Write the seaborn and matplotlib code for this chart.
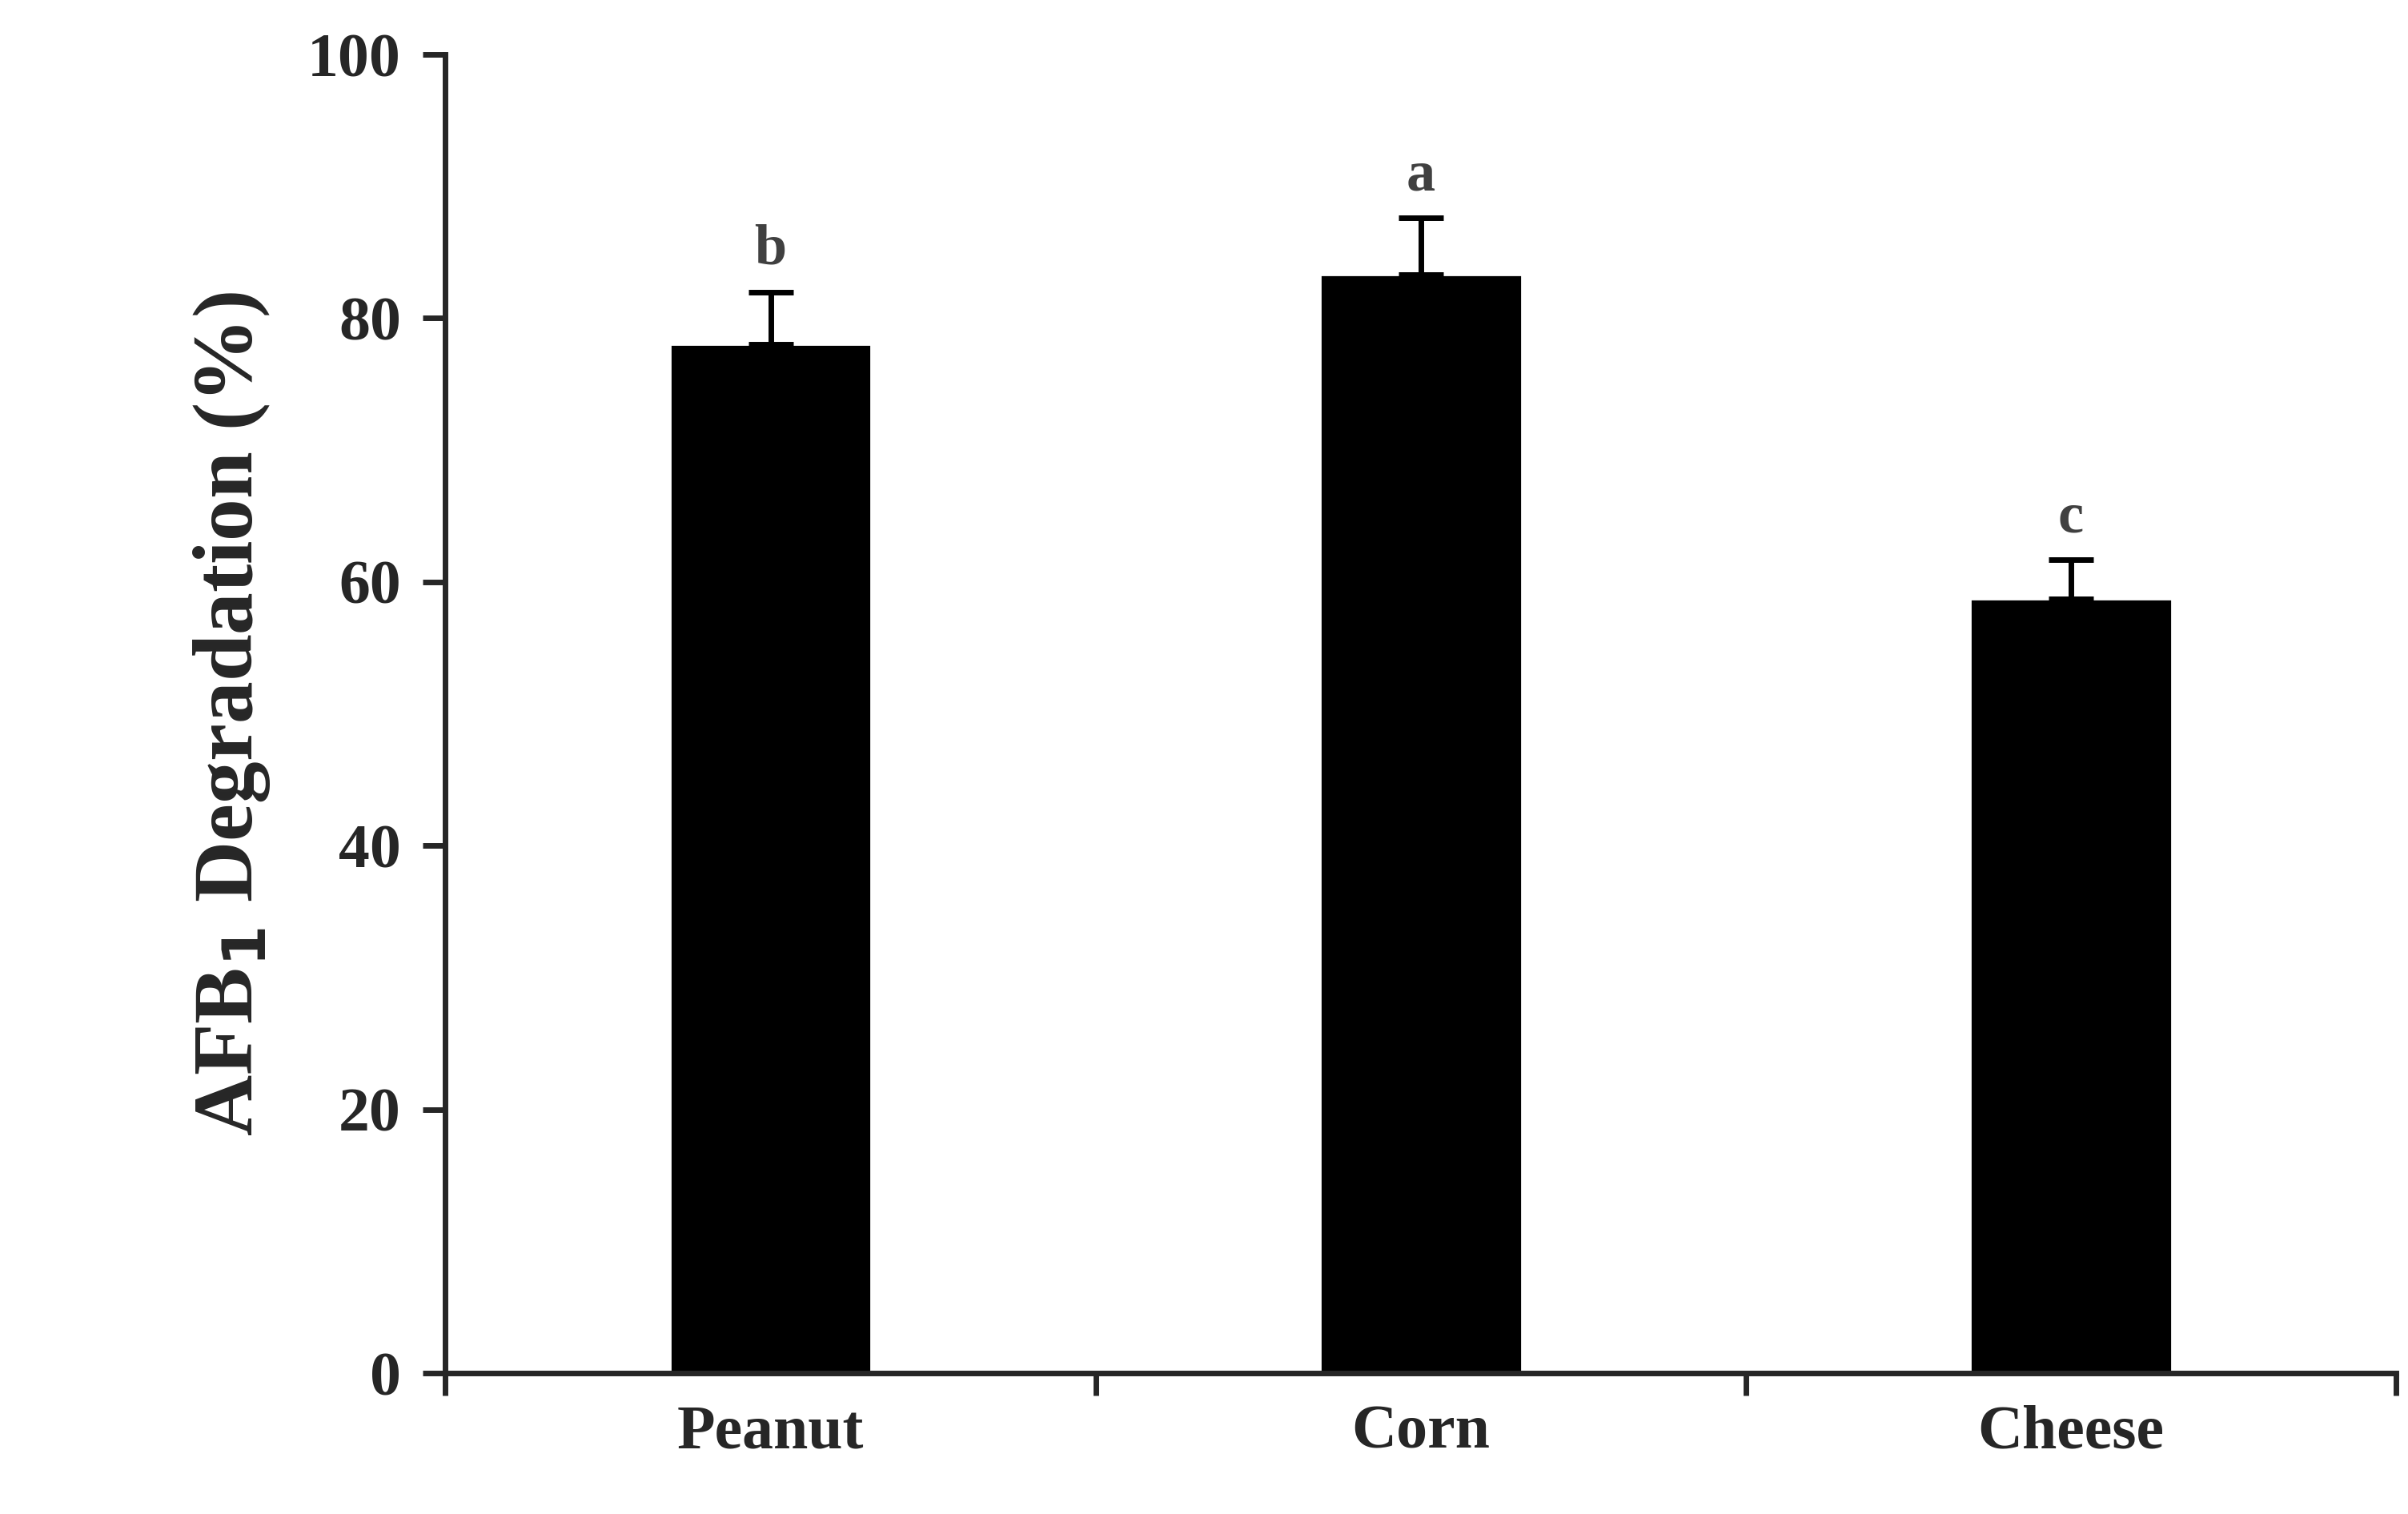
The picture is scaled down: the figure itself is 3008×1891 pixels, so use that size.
import matplotlib
matplotlib.use("Agg")
import matplotlib.pyplot as plt
import seaborn as sns
import pandas as pd
import numpy as np

categories = ["Peanut", "Corn", "Cheese"]
values = [78.0, 83.3, 58.7]
errors = [4.0, 4.3, 3.0]
letters = ["b", "a", "c"]

sns.set_style("ticks")
plt.rcParams['font.family'] = ['Liberation Serif', 'DejaVu Serif']
plt.rcParams['font.weight'] = 'bold'

fig = plt.figure(figsize=(15.04, 9.455), dpi=200)
ax = fig.add_axes([0.185, 0.093, 0.81, 0.871])
df = pd.DataFrame({"cat": categories, "val": values})
sns.barplot(data=df, x="cat", y="val", color="black", width=0.31, ax=ax, errorbar=None, saturation=1)
x = np.arange(len(categories))
ax.errorbar(x, values, yerr=[np.zeros(len(values)), errors], fmt="none", ecolor="black",
            elinewidth=2.5, capsize=10, capthick=2.5)
for xi, v, e, l in zip(x, values, errors, letters):
    ax.text(xi, v + e + 1.2, l, ha="center", va="bottom", fontsize=26, fontweight="bold", color="#404040")

ax.set_xlim(-0.5, 2.5)
ax.set_ylim(0, 100)
ax.set_yticks([0, 20, 40, 60, 80, 100])
ax.set_xticks([-0.5, 0.5, 1.5, 2.5])
ax.set_xticklabels([])
ax.set_xticks(x, minor=True)
ax.set_xticklabels(categories, minor=True)
ax.tick_params(axis="x", which="minor", length=0, pad=14, labelsize=28)
ax.tick_params(axis="x", which="major", length=10, width=2.5, direction="out")
ax.tick_params(axis="y", length=10, width=2.5, direction="out", labelsize=28, pad=10)
for lab in ax.get_xticklabels(minor=True) + ax.get_yticklabels():
    lab.set_fontweight("bold")
ax.set_xlabel("")
ax.set_ylabel("AFB$_\\mathbf{1}$ Degradation (%)", fontsize=38, fontweight="bold", labelpad=16)
for s in ["top", "right"]:
    ax.spines[s].set_visible(False)
for s in ["left", "bottom"]:
    ax.spines[s].set_linewidth(2.5)
fig.savefig("out.png", dpi=200)
